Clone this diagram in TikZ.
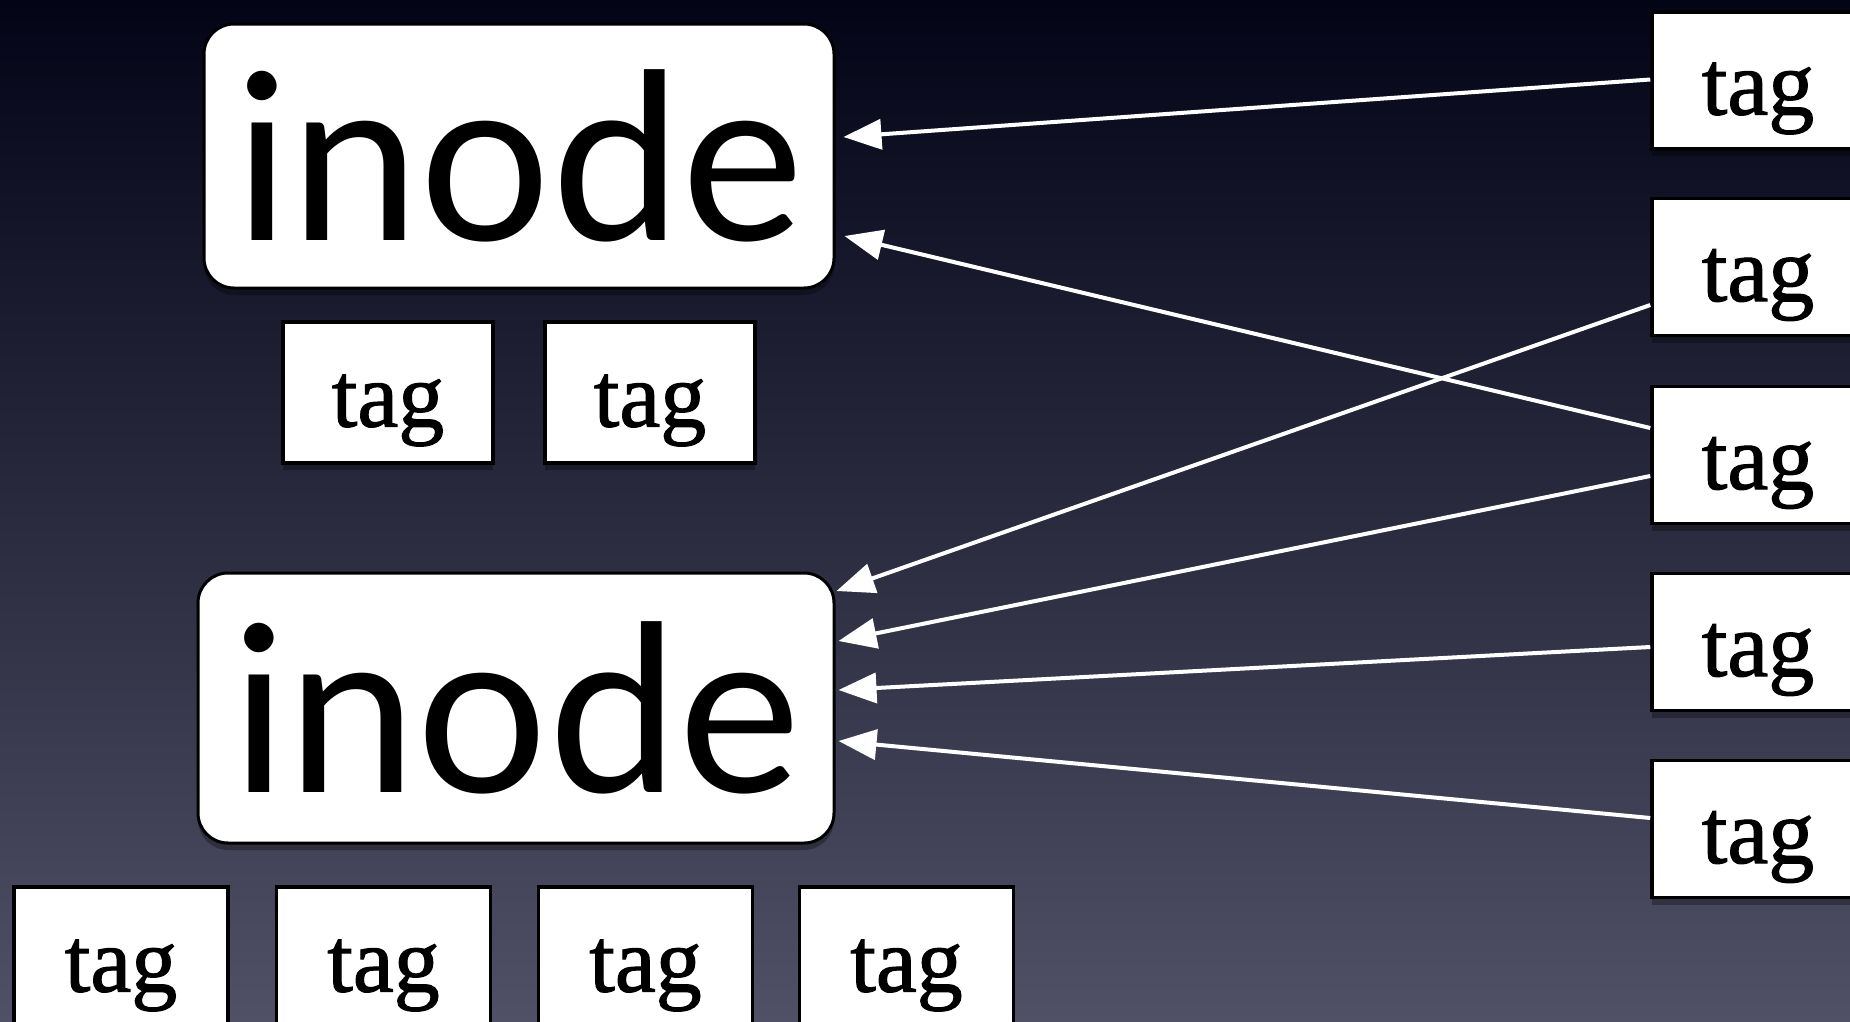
\documentclass[tikz,border=0pt]{standalone}
\usepackage{fontspec}
\setmainfont{Liberation Serif}
\newfontfamily\inodefont{Lato}
\newfontfamily\tagfont{Liberation Serif}[FakeBold=1.2]
\usetikzlibrary{arrows.meta,calc,shadows}
\definecolor{bgtop}{RGB}{3,4,22}
\definecolor{bgmid}{RGB}{36,38,64}
\definecolor{bgbot}{RGB}{80,80,102}
\begin{document}
\begin{tikzpicture}[x=1pt,y=-1pt,
  softshadow/.style={drop shadow={shadow xshift=0pt,shadow yshift=-7pt,opacity=0.3,fill=black}},
  inodebox/.style={draw=black,line width=3pt,fill=white,rounded corners=30pt,inner sep=0pt,
    text height=168pt,text depth=0pt,font=\inodefont\fontsize{232}{232}\selectfont,softshadow},
  tagbox/.style={draw=black,line width=3.5pt,fill=white,inner sep=0pt,minimum width=212pt,
    minimum height=137pt,text height=68pt,text depth=0pt,font=\tagfont\fontsize{92}{92}\selectfont,softshadow},
  link/.style={draw=white,line width=4pt,-{Triangle[length=38pt,width=30pt]}}]
\useasboundingbox (0,0) rectangle (1850,1021);
\clip (0,0) rectangle (1850,1021);
\fill[top color=bgtop,middle color=bgmid,bottom color=bgbot] (0,0) rectangle (1850,1021);

% inodes
\node[inodebox,minimum width=630pt,minimum height=264pt] (inodeA) at (519,156) {inode};
\node[inodebox,minimum width=636pt,minimum height=270pt] (inodeB) at (516,708) {inode};

% tags under top inode
\node[tagbox,minimum width=210pt,minimum height=141pt] (tA1) at (388,392.5) {tag};
\node[tagbox,minimum width=210pt,minimum height=141pt] (tA2) at (650,392.5) {tag};

% tags under bottom inode
\node[tagbox,minimum width=214pt,minimum height=141pt] (tB1) at (121,957.5) {tag};
\node[tagbox,minimum width=214pt,minimum height=141pt] (tB2) at (383.5,957.5) {tag};
\node[tagbox,minimum width=214pt,minimum height=141pt] (tB3) at (645.5,957.5) {tag};
\node[tagbox,minimum width=214pt,minimum height=141pt] (tB4) at (906.5,957.5) {tag};

% right column tags
\node[tagbox] (tR1) at (1758,80.5) {tag};
\node[tagbox] (tR2) at (1758,267) {tag};
\node[tagbox] (tR3) at (1758,455) {tag};
\node[tagbox] (tR4) at (1758,642) {tag};
\node[tagbox] (tR5) at (1758,829) {tag};

% connectors
\draw[link] ($(tR1.west)+(0,-1)$) -- ($(inodeA.east)+(8,-19)$);
\draw[link] ($(tR3.west)+(0,-27)$) -- ($(inodeA.east)+(9,80)$);
\draw[link] ($(tR2.west)+(0,38)$) -- ($(inodeB.east)+(1,-117)$);
\draw[link] ($(tR3.west)+(0,21)$) -- ($(inodeB.east)+(3,-67)$);
\draw[link] ($(tR4.west)+(0,5)$) -- ($(inodeB.east)+(3,-18)$);
\draw[link] ($(tR5.west)+(0,-11)$) -- ($(inodeB.east)+(3,33)$);
\end{tikzpicture}
\end{document}
